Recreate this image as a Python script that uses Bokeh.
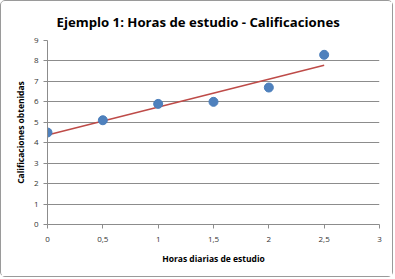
import numpy as np
from bokeh.plotting import figure
from bokeh.models import Range1d, FixedTicker, CustomJSTickFormatter
from bokeh.embed import file_html
from bokeh.resources import INLINE

horas = [0, 0.5, 1, 1.5, 2, 2.5]
calificaciones = [4.5, 5.1, 5.9, 6.0, 6.7, 8.3]
x_ticks = [0, 0.5, 1, 1.5, 2, 2.5, 3]
y_ticks = [0, 1, 2, 3, 4, 5, 6, 7, 8, 9]

slope, intercept = np.polyfit(horas, calificaciones, 1)
trend_x = [min(horas), max(horas)]
trend_y = [intercept + slope * v for v in trend_x]

p = figure(width=393, height=277, output_backend="svg", toolbar_location=None,
           x_range=Range1d(0, 3), y_range=Range1d(0, 9),
           min_border_left=46, min_border_right=15, min_border_top=39, min_border_bottom=54,
           title="Ejemplo 1: Horas de estudio - Calificaciones",
           styles={"border": "1px solid #9a9a9a", "border-radius": "5px"})
p.title.align = "left"
p.title.text_font = "Open Sans"
p.title.text_font_size = "13.2px"
p.title.text_font_style = "bold"
p.title.text_color = "#000000"
p.title.offset = 9
p.title.standoff = 19

p.outline_line_color = None
p.xgrid.grid_line_color = None
p.ygrid.grid_line_color = "#8c8c8c"
p.ygrid.grid_line_width = 1

for ax in (p.xaxis, p.yaxis):
    ax.axis_line_color = "#8c8c8c"
    ax.major_tick_line_color = "#8c8c8c"
    ax.minor_tick_line_color = None
    ax.major_tick_in = 0
    ax.major_tick_out = 4
    ax.major_label_text_font = "Open Sans"
    ax.major_label_text_font_size = "8px"
    ax.major_label_text_color = "#333333"
    ax.axis_label_text_font = "Open Sans"
    ax.axis_label_text_font_size = "8.5px"
    ax.axis_label_text_font_style = "bold"
    ax.axis_label_text_color = "#000000"

p.xaxis.ticker = FixedTicker(ticks=x_ticks)
p.yaxis.ticker = FixedTicker(ticks=y_ticks)
p.xaxis.formatter = CustomJSTickFormatter(code="return tick.toString().replace('.', ',');")
p.xaxis.major_label_standoff = 8
p.yaxis.major_label_standoff = 5
p.xaxis.axis_label = "Horas diarias de estudio"
p.yaxis.axis_label = "Calificaciones obtenidas"
p.xaxis.axis_label_standoff = 8
p.yaxis.axis_label_standoff = 5

p.line(trend_x, trend_y, line_color="#BE4B48", line_width=1.5)
p.scatter(horas, calificaciones, size=9, fill_color="#4F81BD", line_color="#4A7EBB")

open("out.html", "w").write(file_html(p, INLINE))
